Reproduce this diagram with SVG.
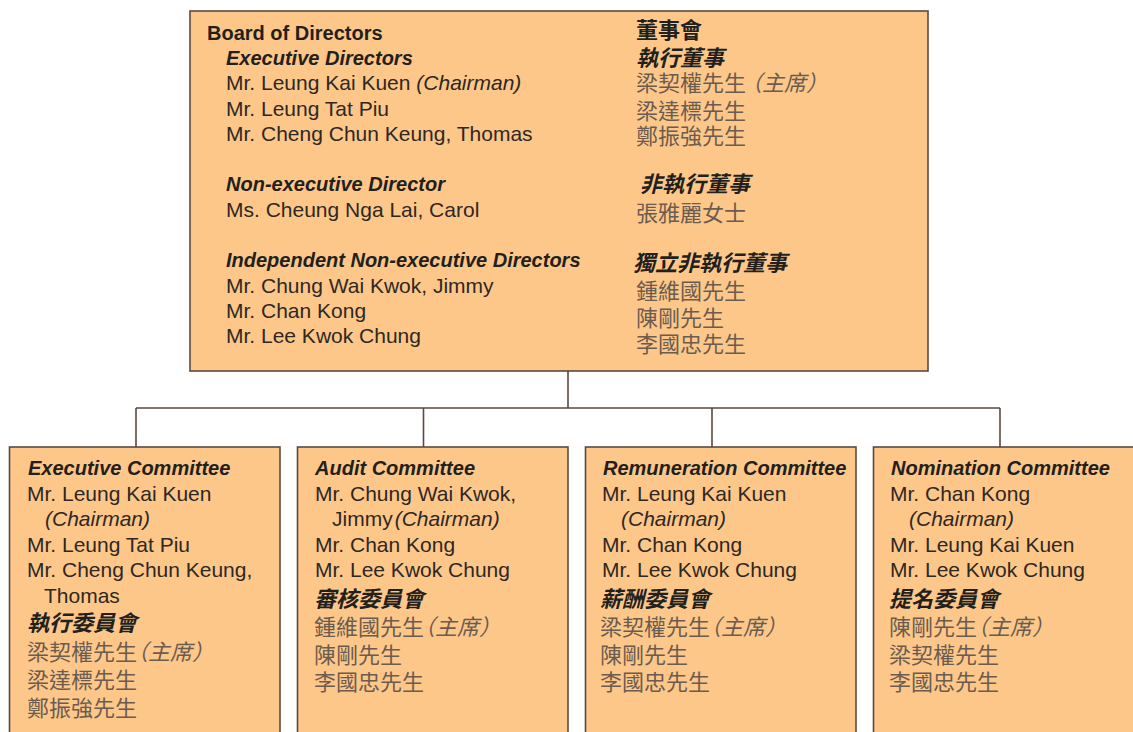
<svg xmlns="http://www.w3.org/2000/svg" width="1133" height="732" viewBox="0 0 1133 732">
<style>
.box{fill:#fec78a;stroke:#5a4a40;stroke-width:1.6}
.conn{stroke:#5a4a40;stroke-width:1.6;fill:none}
text{font-family:"Liberation Sans",Arial,"Noto Sans CJK TC",sans-serif}
.t{font-size:20px;font-weight:bold;fill:#231f1c}
.h{font-size:20px;font-weight:bold;font-style:italic;fill:#231f1c}
.n{font-size:21px;fill:#2e2823}
.ni{font-style:italic}
.zh{font-family:"Noto Sans CJK TC","Noto Sans CJK SC",sans-serif;font-size:22px;fill:#6b5c4f}
.zhh{font-family:"Noto Sans CJK TC","Noto Sans CJK SC",sans-serif;font-size:22px;font-weight:bold;font-style:italic;fill:#231f1c}
.zht{font-family:"Noto Sans CJK TC","Noto Sans CJK SC",sans-serif;font-size:22px;font-weight:bold;fill:#231f1c}
</style>
<rect width="1133" height="732" fill="#ffffff"/>
<g id="connectors">
<path class="conn" d="M568 371V408M136 408H1000M136 408V447M423.5 408V447M712 408V447M1000 408V447"/>
</g>
<g id="board">
<rect class="box" x="190" y="11" width="738" height="360"/>
<text class="t" x="207" y="40">Board of Directors</text>
<text class="h" x="226" y="64.5">Executive Directors</text>
<text class="n" x="226" y="90">Mr. Leung Kai Kuen <tspan class="ni">(Chairman)</tspan></text>
<text class="n" x="226" y="115.5">Mr. Leung Tat Piu</text>
<text class="n" x="226" y="141">Mr. Cheng Chun Keung, Thomas</text>
<text class="h" x="226" y="191">Non-executive Director</text>
<text class="n" x="226" y="217">Ms. Cheung Nga Lai, Carol</text>
<text class="h" x="226" y="266.5">Independent Non-executive Directors</text>
<text class="n" x="226" y="292.5">Mr. Chung Wai Kwok, Jimmy</text>
<text class="n" x="226" y="317.5">Mr. Chan Kong</text>
<text class="n" x="226" y="342.5">Mr. Lee Kwok Chung</text>
<text class="zht" x="636" y="38">董事會</text>
<text class="zhh" x="636" y="65.5">執行董事</text>
<text class="zh" x="636" y="90.5">梁契權先生<tspan class="ni" dx="-6">（主席）</tspan></text>
<text class="zh" x="636" y="118.5">梁達標先生</text>
<text class="zh" x="636" y="144">鄭振強先生</text>
<text class="zhh" x="640" y="191.5">非執行董事</text>
<text class="zh" x="636" y="220.5">張雅麗女士</text>
<text class="zhh" x="633" y="270.5">獨立非執行董事</text>
<text class="zh" x="636" y="298.5">鍾維國先生</text>
<text class="zh" x="636" y="325.5">陳剛先生</text>
<text class="zh" x="636" y="351.5">李國忠先生</text>
</g>
<g id="executive-committee">
<rect class="box" x="9.5" y="447" width="270.5" height="300"/>
<text class="h" x="28" y="475">Executive Committee</text>
<text class="n" x="27" y="500.5">Mr. Leung Kai Kuen</text>
<text class="n ni" x="45" y="526">(Chairman)</text>
<text class="n" x="27" y="551.5">Mr. Leung Tat Piu</text>
<text class="n" x="27" y="577">Mr. Cheng Chun Keung,</text>
<text class="n" x="44" y="602.5">Thomas</text>
<text class="zhh" x="27" y="631">執行委員會</text>
<text class="zh" x="27" y="659.5">梁契權先生<tspan class="ni" dx="-11">（主席）</tspan></text>
<text class="zh" x="27" y="688">梁達標先生</text>
<text class="zh" x="27" y="716">鄭振強先生</text>
</g>
<g id="audit-committee">
<rect class="box" x="297.5" y="447" width="270.5" height="300"/>
<text class="h" x="315" y="475">Audit Committee</text>
<text class="n" x="315" y="500.5">Mr. Chung Wai Kwok,</text>
<text class="n" x="332" y="526">Jimmy<tspan class="ni" dx="2">(Chairman)</tspan></text>
<text class="n" x="315" y="551.5">Mr. Chan Kong</text>
<text class="n" x="315" y="577">Mr. Lee Kwok Chung</text>
<text class="zhh" x="314" y="606.5">審核委員會</text>
<text class="zh" x="314" y="634.5">鍾維國先生<tspan class="ni" dx="-11">（主席）</tspan></text>
<text class="zh" x="314" y="662.5">陳剛先生</text>
<text class="zh" x="314" y="689.5">李國忠先生</text>
</g>
<g id="remuneration-committee">
<rect class="box" x="585.5" y="447" width="270.5" height="300"/>
<text class="h" x="603" y="475">Remuneration Committee</text>
<text class="n" x="602" y="500.5">Mr. Leung Kai Kuen</text>
<text class="n ni" x="621" y="526">(Chairman)</text>
<text class="n" x="602" y="551.5">Mr. Chan Kong</text>
<text class="n" x="602" y="577">Mr. Lee Kwok Chung</text>
<text class="zhh" x="600" y="606.5">薪酬委員會</text>
<text class="zh" x="600" y="634.5">梁契權先生<tspan class="ni" dx="-11">（主席）</tspan></text>
<text class="zh" x="600" y="662.5">陳剛先生</text>
<text class="zh" x="600" y="689.5">李國忠先生</text>
</g>
<g id="nomination-committee">
<rect class="box" x="873.5" y="447" width="270.5" height="300"/>
<text class="h" x="891" y="475">Nomination Committee</text>
<text class="n" x="890" y="500.5">Mr. Chan Kong</text>
<text class="n ni" x="909" y="526">(Chairman)</text>
<text class="n" x="890" y="551.5">Mr. Leung Kai Kuen</text>
<text class="n" x="890" y="577">Mr. Lee Kwok Chung</text>
<text class="zhh" x="889" y="606.5">提名委員會</text>
<text class="zh" x="889" y="634.5">陳剛先生<tspan class="ni" dx="-11">（主席）</tspan></text>
<text class="zh" x="889" y="662.5">梁契權先生</text>
<text class="zh" x="889" y="689.5">李國忠先生</text>
</g>
</svg>
